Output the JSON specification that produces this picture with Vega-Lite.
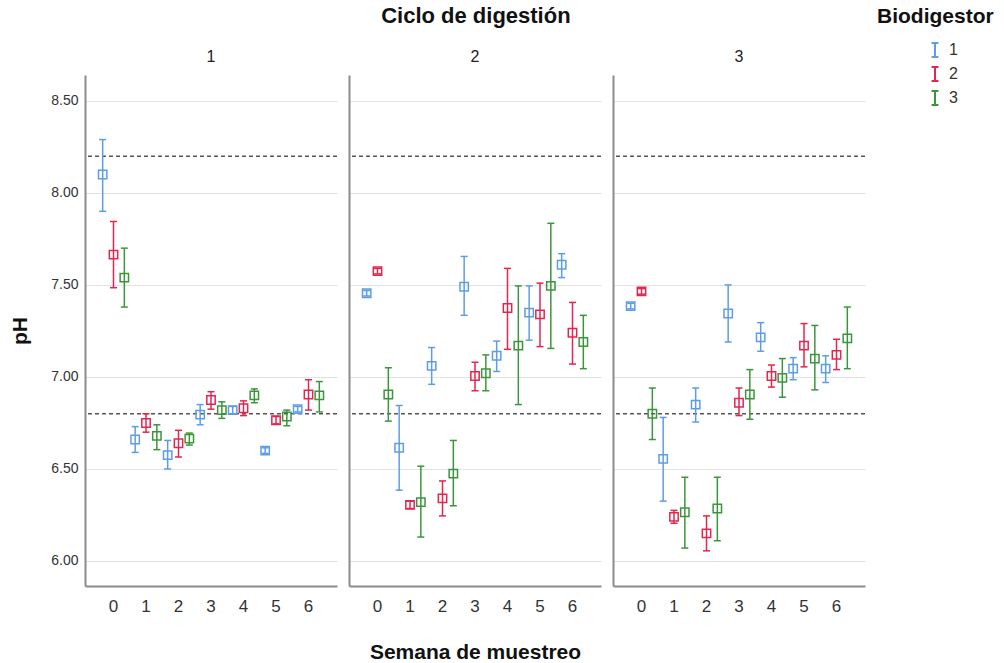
{
  "$schema": "https://vega.github.io/schema/vega-lite/v6.json",
  "padding": {"left": 9, "top": 5, "right": 5, "bottom": 0},
  "title": {"text": "Ciclo de digestión", "fontSize": 22, "fontWeight": "bold", "anchor": "middle", "color": "#111", "font": "Liberation Sans", "offset": -22, "dx": -26},
  "datasets": {
    "ph": [
      {"ciclo": 1, "semana": 0, "bio": 1, "ph": 8.10, "lo": 7.90, "hi": 8.29},
      {"ciclo": 1, "semana": 0, "bio": 2, "ph": 7.665, "lo": 7.485, "hi": 7.845},
      {"ciclo": 1, "semana": 0, "bio": 3, "ph": 7.54, "lo": 7.38, "hi": 7.70},
      {"ciclo": 1, "semana": 1, "bio": 1, "ph": 6.66, "lo": 6.59, "hi": 6.73},
      {"ciclo": 1, "semana": 1, "bio": 2, "ph": 6.75, "lo": 6.70, "hi": 6.80},
      {"ciclo": 1, "semana": 1, "bio": 3, "ph": 6.68, "lo": 6.605, "hi": 6.74},
      {"ciclo": 1, "semana": 2, "bio": 1, "ph": 6.575, "lo": 6.50, "hi": 6.655},
      {"ciclo": 1, "semana": 2, "bio": 2, "ph": 6.64, "lo": 6.565, "hi": 6.71},
      {"ciclo": 1, "semana": 2, "bio": 3, "ph": 6.665, "lo": 6.63, "hi": 6.695},
      {"ciclo": 1, "semana": 3, "bio": 1, "ph": 6.795, "lo": 6.74, "hi": 6.85},
      {"ciclo": 1, "semana": 3, "bio": 2, "ph": 6.875, "lo": 6.825, "hi": 6.92},
      {"ciclo": 1, "semana": 3, "bio": 3, "ph": 6.82, "lo": 6.775, "hi": 6.865},
      {"ciclo": 1, "semana": 4, "bio": 1, "ph": 6.82, "lo": 6.80, "hi": 6.84},
      {"ciclo": 1, "semana": 4, "bio": 2, "ph": 6.83, "lo": 6.79, "hi": 6.87},
      {"ciclo": 1, "semana": 4, "bio": 3, "ph": 6.90, "lo": 6.86, "hi": 6.935},
      {"ciclo": 1, "semana": 5, "bio": 1, "ph": 6.60, "lo": 6.585, "hi": 6.615},
      {"ciclo": 1, "semana": 5, "bio": 2, "ph": 6.765, "lo": 6.745, "hi": 6.785},
      {"ciclo": 1, "semana": 5, "bio": 3, "ph": 6.785, "lo": 6.735, "hi": 6.82},
      {"ciclo": 1, "semana": 6, "bio": 1, "ph": 6.825, "lo": 6.81, "hi": 6.84},
      {"ciclo": 1, "semana": 6, "bio": 2, "ph": 6.905, "lo": 6.82, "hi": 6.985},
      {"ciclo": 1, "semana": 6, "bio": 3, "ph": 6.90, "lo": 6.81, "hi": 6.975},
      {"ciclo": 2, "semana": 0, "bio": 1, "ph": 7.455, "lo": 7.44, "hi": 7.47},
      {"ciclo": 2, "semana": 0, "bio": 2, "ph": 7.575, "lo": 7.56, "hi": 7.59},
      {"ciclo": 2, "semana": 0, "bio": 3, "ph": 6.905, "lo": 6.76, "hi": 7.05},
      {"ciclo": 2, "semana": 1, "bio": 1, "ph": 6.615, "lo": 6.385, "hi": 6.845},
      {"ciclo": 2, "semana": 1, "bio": 2, "ph": 6.305, "lo": 6.285, "hi": 6.325},
      {"ciclo": 2, "semana": 1, "bio": 3, "ph": 6.32, "lo": 6.13, "hi": 6.515},
      {"ciclo": 2, "semana": 2, "bio": 1, "ph": 7.06, "lo": 6.96, "hi": 7.16},
      {"ciclo": 2, "semana": 2, "bio": 2, "ph": 6.34, "lo": 6.245, "hi": 6.435},
      {"ciclo": 2, "semana": 2, "bio": 3, "ph": 6.475, "lo": 6.30, "hi": 6.655},
      {"ciclo": 2, "semana": 3, "bio": 1, "ph": 7.49, "lo": 7.335, "hi": 7.655},
      {"ciclo": 2, "semana": 3, "bio": 2, "ph": 7.005, "lo": 6.925, "hi": 7.08},
      {"ciclo": 2, "semana": 3, "bio": 3, "ph": 7.02, "lo": 6.925, "hi": 7.12},
      {"ciclo": 2, "semana": 4, "bio": 1, "ph": 7.115, "lo": 7.03, "hi": 7.195},
      {"ciclo": 2, "semana": 4, "bio": 2, "ph": 7.375, "lo": 7.15, "hi": 7.59},
      {"ciclo": 2, "semana": 4, "bio": 3, "ph": 7.17, "lo": 6.85, "hi": 7.495},
      {"ciclo": 2, "semana": 5, "bio": 1, "ph": 7.35, "lo": 7.20, "hi": 7.495},
      {"ciclo": 2, "semana": 5, "bio": 2, "ph": 7.34, "lo": 7.165, "hi": 7.51},
      {"ciclo": 2, "semana": 5, "bio": 3, "ph": 7.495, "lo": 7.155, "hi": 7.835},
      {"ciclo": 2, "semana": 6, "bio": 1, "ph": 7.61, "lo": 7.54, "hi": 7.67},
      {"ciclo": 2, "semana": 6, "bio": 2, "ph": 7.24, "lo": 7.07, "hi": 7.405},
      {"ciclo": 2, "semana": 6, "bio": 3, "ph": 7.19, "lo": 7.045, "hi": 7.335},
      {"ciclo": 3, "semana": 0, "bio": 1, "ph": 7.385, "lo": 7.37, "hi": 7.40},
      {"ciclo": 3, "semana": 0, "bio": 2, "ph": 7.465, "lo": 7.45, "hi": 7.48},
      {"ciclo": 3, "semana": 0, "bio": 3, "ph": 6.80, "lo": 6.66, "hi": 6.94},
      {"ciclo": 3, "semana": 1, "bio": 1, "ph": 6.555, "lo": 6.325, "hi": 6.78},
      {"ciclo": 3, "semana": 1, "bio": 2, "ph": 6.24, "lo": 6.205, "hi": 6.275},
      {"ciclo": 3, "semana": 1, "bio": 3, "ph": 6.265, "lo": 6.07, "hi": 6.455},
      {"ciclo": 3, "semana": 2, "bio": 1, "ph": 6.85, "lo": 6.755, "hi": 6.94},
      {"ciclo": 3, "semana": 2, "bio": 2, "ph": 6.15, "lo": 6.055, "hi": 6.245},
      {"ciclo": 3, "semana": 2, "bio": 3, "ph": 6.285, "lo": 6.11, "hi": 6.455},
      {"ciclo": 3, "semana": 3, "bio": 1, "ph": 7.345, "lo": 7.19, "hi": 7.50},
      {"ciclo": 3, "semana": 3, "bio": 2, "ph": 6.86, "lo": 6.79, "hi": 6.94},
      {"ciclo": 3, "semana": 3, "bio": 3, "ph": 6.905, "lo": 6.77, "hi": 7.04},
      {"ciclo": 3, "semana": 4, "bio": 1, "ph": 7.215, "lo": 7.14, "hi": 7.295},
      {"ciclo": 3, "semana": 4, "bio": 2, "ph": 7.005, "lo": 6.945, "hi": 7.065},
      {"ciclo": 3, "semana": 4, "bio": 3, "ph": 6.995, "lo": 6.89, "hi": 7.10},
      {"ciclo": 3, "semana": 5, "bio": 1, "ph": 7.045, "lo": 6.985, "hi": 7.105},
      {"ciclo": 3, "semana": 5, "bio": 2, "ph": 7.17, "lo": 7.055, "hi": 7.29},
      {"ciclo": 3, "semana": 5, "bio": 3, "ph": 7.10, "lo": 6.93, "hi": 7.28},
      {"ciclo": 3, "semana": 6, "bio": 1, "ph": 7.045, "lo": 6.97, "hi": 7.115},
      {"ciclo": 3, "semana": 6, "bio": 2, "ph": 7.12, "lo": 7.04, "hi": 7.205},
      {"ciclo": 3, "semana": 6, "bio": 3, "ph": 7.21, "lo": 7.045, "hi": 7.38}
    ]
  },
  "spacing": 10,
  "hconcat": [
    {
      "width": 252, "height": 511,
      "title": {"text": "1", "fontSize": 16, "fontWeight": "normal", "color": "#222", "offset": 10},
      "data": {"name": "ph"},
      "transform": [{"filter": "datum.ciclo == 1"}],
      "encoding": {
        "x": {"field": "semana", "type": "ordinal", "scale": {"paddingInner": 0, "paddingOuter": 0.377}, "axis": {"title": null}},
        "xOffset": {"field": "bio", "type": "nominal", "scale": {"paddingInner": 0, "paddingOuter": 0}},
        "color": {"field": "bio", "type": "nominal", "scale": {"domain": [1, 2, 3], "range": ["#5d9de8", "#e3264f", "#3b963b"]}, "legend": {"title": "Biodigestor"}}
      },
      "layer": [
        {"transform": [{"filter": "datum.semana == 0 && datum.bio == 1"}], "mark": {"type": "rule", "strokeDash": [4, 3], "color": "#555", "strokeWidth": 1.5}, "encoding": {"y": {"datum": 6.8, "type": "quantitative", "scale": {"domain": [5.864, 8.641], "nice": false, "zero": false}, "axis": {"title": "pH", "values": [6, 6.5, 7, 7.5, 8, 8.5], "format": ".2f"}}, "x": null, "xOffset": null, "color": null}},
        {"transform": [{"filter": "datum.semana == 0 && datum.bio == 1"}], "mark": {"type": "rule", "strokeDash": [4, 3], "color": "#555", "strokeWidth": 1.5}, "encoding": {"y": {"datum": 8.2, "type": "quantitative"}, "x": null, "xOffset": null, "color": null}},
        {"mark": {"type": "rule", "strokeWidth": 1.5}, "encoding": {"y": {"field": "lo", "type": "quantitative"}, "y2": {"field": "hi"}}},
        {"mark": {"type": "tick", "size": 7, "thickness": 1.5, "opacity": 1}, "encoding": {"y": {"field": "lo", "type": "quantitative"}}},
        {"mark": {"type": "tick", "size": 7, "thickness": 1.5, "opacity": 1}, "encoding": {"y": {"field": "hi", "type": "quantitative"}}},
        {"mark": {"type": "point", "shape": "square", "filled": false, "size": 70, "strokeWidth": 1.5, "opacity": 1}, "encoding": {"y": {"field": "ph", "type": "quantitative"}}}
      ]
    },
    {
      "width": 252, "height": 511,
      "title": {"text": "2", "fontSize": 16, "fontWeight": "normal", "color": "#222", "offset": 10},
      "data": {"name": "ph"},
      "transform": [{"filter": "datum.ciclo == 2"}],
      "encoding": {
        "x": {"field": "semana", "type": "ordinal", "scale": {"paddingInner": 0, "paddingOuter": 0.377}, "axis": {"title": "Semana de muestreo"}},
        "xOffset": {"field": "bio", "type": "nominal", "scale": {"paddingInner": 0, "paddingOuter": 0}},
        "color": {"field": "bio", "type": "nominal", "scale": {"domain": [1, 2, 3], "range": ["#5d9de8", "#e3264f", "#3b963b"]}, "legend": {"title": "Biodigestor"}}
      },
      "layer": [
        {"transform": [{"filter": "datum.semana == 0 && datum.bio == 1"}], "mark": {"type": "rule", "strokeDash": [4, 3], "color": "#555", "strokeWidth": 1.5}, "encoding": {"y": {"datum": 6.8, "type": "quantitative", "scale": {"domain": [5.864, 8.641], "nice": false, "zero": false}, "axis": {"title": null, "labels": false, "values": [6, 6.5, 7, 7.5, 8, 8.5]}}, "x": null, "xOffset": null, "color": null}},
        {"transform": [{"filter": "datum.semana == 0 && datum.bio == 1"}], "mark": {"type": "rule", "strokeDash": [4, 3], "color": "#555", "strokeWidth": 1.5}, "encoding": {"y": {"datum": 8.2, "type": "quantitative"}, "x": null, "xOffset": null, "color": null}},
        {"mark": {"type": "rule", "strokeWidth": 1.5}, "encoding": {"y": {"field": "lo", "type": "quantitative"}, "y2": {"field": "hi"}}},
        {"mark": {"type": "tick", "size": 7, "thickness": 1.5, "opacity": 1}, "encoding": {"y": {"field": "lo", "type": "quantitative"}}},
        {"mark": {"type": "tick", "size": 7, "thickness": 1.5, "opacity": 1}, "encoding": {"y": {"field": "hi", "type": "quantitative"}}},
        {"mark": {"type": "point", "shape": "square", "filled": false, "size": 70, "strokeWidth": 1.5, "opacity": 1}, "encoding": {"y": {"field": "ph", "type": "quantitative"}}}
      ]
    },
    {
      "width": 252, "height": 511,
      "title": {"text": "3", "fontSize": 16, "fontWeight": "normal", "color": "#222", "offset": 10},
      "data": {"name": "ph"},
      "transform": [{"filter": "datum.ciclo == 3"}],
      "encoding": {
        "x": {"field": "semana", "type": "ordinal", "scale": {"paddingInner": 0, "paddingOuter": 0.377}, "axis": {"title": null}},
        "xOffset": {"field": "bio", "type": "nominal", "scale": {"paddingInner": 0, "paddingOuter": 0}},
        "color": {"field": "bio", "type": "nominal", "scale": {"domain": [1, 2, 3], "range": ["#5d9de8", "#e3264f", "#3b963b"]}, "legend": {"title": "Biodigestor"}}
      },
      "layer": [
        {"transform": [{"filter": "datum.semana == 0 && datum.bio == 1"}], "mark": {"type": "rule", "strokeDash": [4, 3], "color": "#555", "strokeWidth": 1.5}, "encoding": {"y": {"datum": 6.8, "type": "quantitative", "scale": {"domain": [5.864, 8.641], "nice": false, "zero": false}, "axis": {"title": null, "labels": false, "values": [6, 6.5, 7, 7.5, 8, 8.5]}}, "x": null, "xOffset": null, "color": null}},
        {"transform": [{"filter": "datum.semana == 0 && datum.bio == 1"}], "mark": {"type": "rule", "strokeDash": [4, 3], "color": "#555", "strokeWidth": 1.5}, "encoding": {"y": {"datum": 8.2, "type": "quantitative"}, "x": null, "xOffset": null, "color": null}},
        {"mark": {"type": "rule", "strokeWidth": 1.5}, "encoding": {"y": {"field": "lo", "type": "quantitative"}, "y2": {"field": "hi"}}},
        {"mark": {"type": "tick", "size": 7, "thickness": 1.5, "opacity": 1}, "encoding": {"y": {"field": "lo", "type": "quantitative"}}},
        {"mark": {"type": "tick", "size": 7, "thickness": 1.5, "opacity": 1}, "encoding": {"y": {"field": "hi", "type": "quantitative"}}},
        {"mark": {"type": "point", "shape": "square", "filled": false, "size": 70, "strokeWidth": 1.5, "opacity": 1}, "encoding": {"y": {"field": "ph", "type": "quantitative"}}}
      ]
    }
  ],
  "config": {
    "font": "Liberation Sans",
    "view": {"stroke": null},
    "axis": {"ticks": false, "domainColor": "#8c8c8c", "domainWidth": 2, "gridColor": "#e3e3e3", "gridWidth": 1, "labelColor": "#333", "titleColor": "#111", "titleFontSize": 21, "titleFontWeight": "bold"},
    "axisY": {"labelFontSize": 14, "labelPadding": 7, "titlePadding": 20, "grid": true},
    "axisX": {"labelFontSize": 17, "labelAngle": 0, "labelPadding": 12, "titlePadding": 27, "grid": false},
    "legend": {
      "orient": "none", "legendX": 792, "legendY": -69,
      "titleFontSize": 21, "titleFontWeight": "bold", "titleColor": "#111", "titlePadding": 15,
      "labelFontSize": 16, "labelColor": "#333", "labelOffset": 6,
      "symbolType": "M-0.5,-1H0.5M0,-1V1M-0.5,1H0.5", "symbolSize": 190, "symbolStrokeWidth": 2, "symbolFillColor": "transparent", "symbolOffset": 50, "rowPadding": 2
    }
  }
}
